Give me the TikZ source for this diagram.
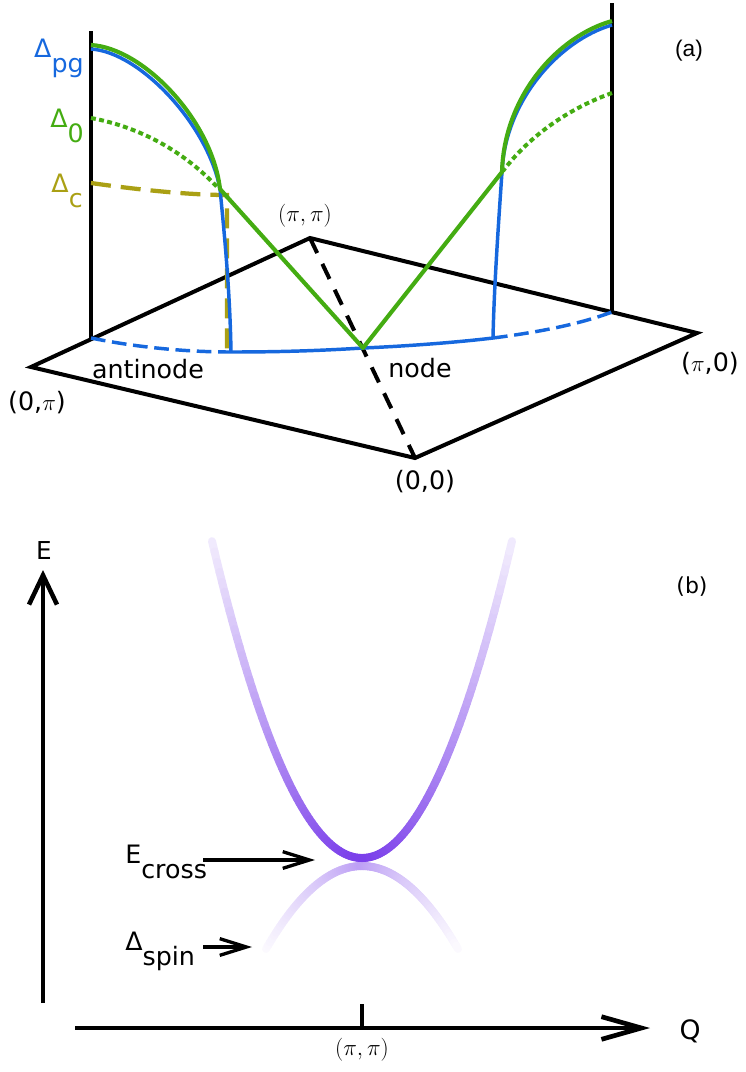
\documentclass[tikz,border=0pt]{standalone}
\usepackage{fontspec}
\setmainfont{DejaVu Sans}
\newfontfamily\helv{Liberation Sans}
\usetikzlibrary{arrows.meta}

\definecolor{gapblue}{RGB}{22,104,222}
\definecolor{gapgreen}{RGB}{68,172,18}
\definecolor{gapolive}{RGB}{170,160,20}
\definecolor{magnon}{RGB}{122,62,234}

\newcommand{\sublab}[2]{#1\raisebox{-0.6em}{#2}}

\tikzset{
  frame/.style={line width=3pt, line join=miter},
  diag/.style={line width=3pt, dash pattern=on 12.5pt off 9pt},
  fsline/.style={gapblue, line width=2.6pt},
  fsdash/.style={fsline, dash pattern=on 11pt off 5pt},
  gapline/.style={gapblue, line width=2.6pt},
  pgline/.style={gapgreen, line width=3.1pt, line join=round},
  zeroline/.style={gapgreen, line width=3pt, dash pattern=on 3.7pt off 2.5pt},
  cline/.style={gapolive, line width=3.2pt, dash pattern=on 15pt off 7.5pt},
  band/.style={line width=6pt, line cap=round},
  eaxis/.style={line width=3.4pt, -{Straight Barb[length=22pt,width=21pt,line width=3.4pt]}},
  qaxis/.style={line width=3.5pt, -{Straight Barb[length=30pt,width=17pt,line width=3.5pt]}},
  pointer/.style={line width=2.5pt, -{Straight Barb[length=20pt,width=12.5pt,line width=2.5pt]}},
  lab/.style={inner sep=0pt}
}

\begin{document}
\begin{tikzpicture}[x=0.75pt,y=0.75pt,yscale=-1,xscale=1,font=\fontsize{19}{22}\selectfont]
\useasboundingbox (0,0) rectangle (746,1072);

% (a) Brillouin zone quadrant
\coordinate (Ypt) at (31,367);
\coordinate (Mpt) at (310,238);
\coordinate (Xpt) at (697,333);
\coordinate (Gpt) at (415,458);
\coordinate (LA) at (91,338);
\coordinate (LAtop) at (91,31);
\coordinate (RA) at (612,312);
\coordinate (RAtop) at (612,3);
\coordinate (nodept) at (363,348);
\coordinate (AL) at (231,352);
\coordinate (AR) at (493,338);
\coordinate (KL) at (220,189);
\coordinate (KR) at (502,172);

\draw[frame] (Ypt) -- (Mpt) -- (Xpt) -- (Gpt) -- cycle;
\draw[frame] (LA) -- (LAtop);
\draw[frame] (RA) -- (RAtop);
\draw[diag] (Mpt) -- (Gpt);

% Fermi arc
\draw[fsdash] (LA) .. controls (140,348) and (190,352) .. (AL);
\draw[fsline] (AL) .. controls (290,352) and (330,350) .. (nodept) .. controls (410,346) and (460,342) .. (AR);
\draw[fsdash] (AR) .. controls (540,332) and (580,324) .. (RA);

% Delta_c
\draw[cline] (91,183) .. controls (140,190) and (190,195) .. (227,195) -- (227,352);

% pseudogap
\draw[gapline] (91,49) .. controls (140,52) and (208,125) .. (KL) .. controls (224,230) and (230,290) .. (AL);
\draw[gapline] (RA |- 0,25) .. controls (560,40) and (505,100) .. (KR) .. controls (498,230) and (494,290) .. (AR);

% Delta_0
\draw[zeroline] (91,118) .. controls (140,127) and (185,152) .. (218,188);
\draw[zeroline] (612,93) .. controls (570,108) and (530,135) .. (503,171);

% measured gap
\draw[pgline] (91,45) .. controls (143,48) and (212,120) .. (KL) -- (nodept) -- (KR) .. controls (504,96) and (558,36) .. (612,21);

\node[lab, gapblue, anchor=base east] (dpg) at (84,57) {\sublab{Δ}{pg}};
\node[lab, gapgreen, anchor=base east] (dzero) at (84,127) {\sublab{Δ}{0}};
\node[lab, gapolive, anchor=base east] (dc) at (83,192) {\sublab{Δ}{c}};
\node[lab, font=\fontsize{18}{21}\selectfont] (mlab) at (305,216) {$(\pi,\pi)$};
\node[lab] (ylab) at (37,403) {(0,$\pi$)};
\node[lab] (glab) at (425,482) {(0,0)};
\node[lab] (xlab) at (710,364) {($\pi$,0)};
\node[lab] (anti) at (148,369) {antinode};
\node[lab] (nlab) at (420,368) {node};
\node[lab, font=\helv\fontsize{17}{20}\selectfont] (pa) at (689,51) {(a)};

% (b) spin excitations
\coordinate (Ebot) at (43,1003);
\coordinate (Etop) at (43,570);
\coordinate (Qleft) at (75,1028);
\coordinate (Qright) at (650,1028);
\coordinate (tick) at (362,1004);

\foreach \i in {-48,...,47}{
  \pgfmathsetmacro{\xa}{2*\i}
  \pgfmathsetmacro{\xb}{2*\i+2}
  \pgfmathtruncatemacro{\sh}{3+47*(1-abs(\xa+1)/96)}
  \draw[band, magnon!\sh!white] ({362+\xa},{866+0.009*(\xa)*(\xa)}) -- ({362+\xb},{866+0.009*(\xb)*(\xb)});
}
\foreach \i in {-60,...,59}{
  \pgfmathsetmacro{\xa}{2.5*\i}
  \pgfmathsetmacro{\xb}{2.5*\i+2.5}
  \pgfmathtruncatemacro{\sh}{100-90*(abs(\xa+1.25)/150)^1.5}
  \draw[band, magnon!\sh!white] ({362+\xa},{858-0.01409*(\xa)*(\xa)}) -- ({362+\xb},{858-0.01409*(\xb)*(\xb)});
}

\draw[eaxis] (Ebot) -- (Etop);
\draw[qaxis] (Qleft) -- (Qright);
\draw[line width=2.4pt] (tick) -- (tick |- Qleft);

\node[lab, font=\fontsize{18.5}{21}\selectfont] (elab) at (44,550) {E};
\node[lab, font=\fontsize{20}{23}\selectfont] (qlab) at (690,1031) {Q};
\node[lab, font=\fontsize{18}{21}\selectfont] (mplab) at (362,1050) {$(\pi,\pi)$};
\node[lab, font=\fontsize{16.5}{19}\selectfont] (pb) at (692,587) {(b)};

\node[lab, anchor=base west] (ecross) at (125,863) {\sublab{E}{cross}};
\node[lab, anchor=base west] (dspin) at (125,950) {\sublab{Δ}{spin}};
\coordinate (ecS) at (203,860);
\coordinate (ecT) at (315,860);
\coordinate (dsS) at (203,947);
\coordinate (dsT) at (252,947);
\draw[pointer] (ecS) -- (ecT);
\draw[pointer] (dsS) -- (dsT);
\end{tikzpicture}
\end{document}
